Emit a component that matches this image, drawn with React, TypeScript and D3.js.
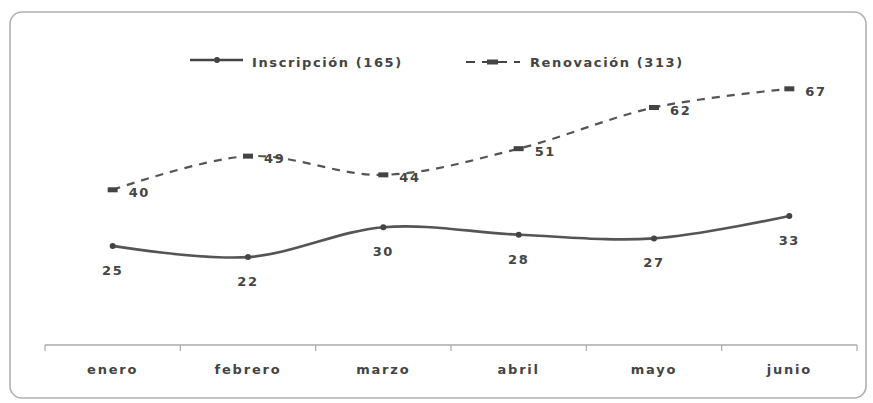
import { scaleBand, scaleLinear, line as d3line, curveCatmullRom } from "d3";

const months = ["enero", "febrero", "marzo", "abril", "mayo", "junio"];
const inscripcion = [25, 22, 30, 28, 27, 33];
const renovacion = [40, 49, 44, 51, 62, 67];
const legendLabels = ["Inscripción (165)", "Renovación (313)"];

const W = 873;
const H = 403;
const FONT = "'DejaVu Sans', Verdana, sans-serif";
const INK = "#444";

export default function App() {
  const x = scaleBand<string>().domain(months).range([45, 857]);
  const cx = (m: string) => (x(m) ?? 0) + x.bandwidth() / 2;
  const y = scaleLinear().domain([0, 80]).range([339.4, 40.2]);
  const axisY = 345;

  const line = d3line<number>()
    .x((_, i) => cx(months[i]))
    .y((v) => y(v))
    .curve(curveCatmullRom.alpha(0));

  const pathIns = line(inscripcion) ?? "";
  const pathRen = line(renovacion) ?? "";

  const textStyle = {
    fontFamily: FONT,
    fontWeight: 700,
    fontSize: 13,
    letterSpacing: 1.6,
    fill: INK,
  } as const;

  return (
    <svg
      width={W}
      height={H}
      style={{ position: "absolute", left: 0, top: 0, background: "#fff" }}
    >
      {/* marco */}
      <rect x={10} y={12} width={856} height={386} rx={12} fill="#fff" stroke="#b0b0b0" strokeWidth={1.6} />

      {/* leyenda */}
      <g>
        <line x1={190} x2={243} y1={60} y2={60} stroke={INK} strokeWidth={2.5} />
        <circle cx={217} cy={60} r={3} fill={INK} />
        <text x={252} y={67} {...textStyle}>{legendLabels[0]}</text>
        <line x1={466} x2={520} y1={62} y2={62} stroke={INK} strokeWidth={2.2} strokeDasharray="9 7" />
        <rect x={487} y={59.5} width={11} height={5} fill={INK} />
        <text x={530} y={67} {...textStyle}>{legendLabels[1]}</text>
      </g>

      {/* eje X */}
      <line x1={45} x2={857} y1={axisY} y2={axisY} stroke="#a8a8a8" strokeWidth={1.5} />
      {[...months.map((m) => x(m) ?? 0), 857].map((t, i) => (
        <line key={i} x1={t} x2={t} y1={axisY} y2={axisY + 6} stroke="#a8a8a8" strokeWidth={1.2} />
      ))}
      {months.map((m) => (
        <text key={m} x={cx(m)} y={374} textAnchor="middle" {...textStyle} letterSpacing={1.8}>
          {m}
        </text>
      ))}

      {/* Renovación */}
      <path d={pathRen} fill="none" stroke="#555" strokeWidth={2.2} strokeDasharray="8 7" />
      {renovacion.map((v, i) => (
        <g key={"r" + i}>
          <rect x={cx(months[i]) - 5} y={y(v) - 2.5} width={10} height={5} fill={INK} />
          <text x={cx(months[i]) + 16} y={y(v) + 7} {...textStyle}>{v}</text>
        </g>
      ))}

      {/* Inscripción */}
      <path d={pathIns} fill="none" stroke="#555" strokeWidth={2.6} />
      {inscripcion.map((v, i) => (
        <g key={"i" + i}>
          <circle cx={cx(months[i])} cy={y(v)} r={3} fill={INK} />
          <text x={cx(months[i])} y={y(v) + 29} textAnchor="middle" {...textStyle}>{v}</text>
        </g>
      ))}
    </svg>
  );
}
